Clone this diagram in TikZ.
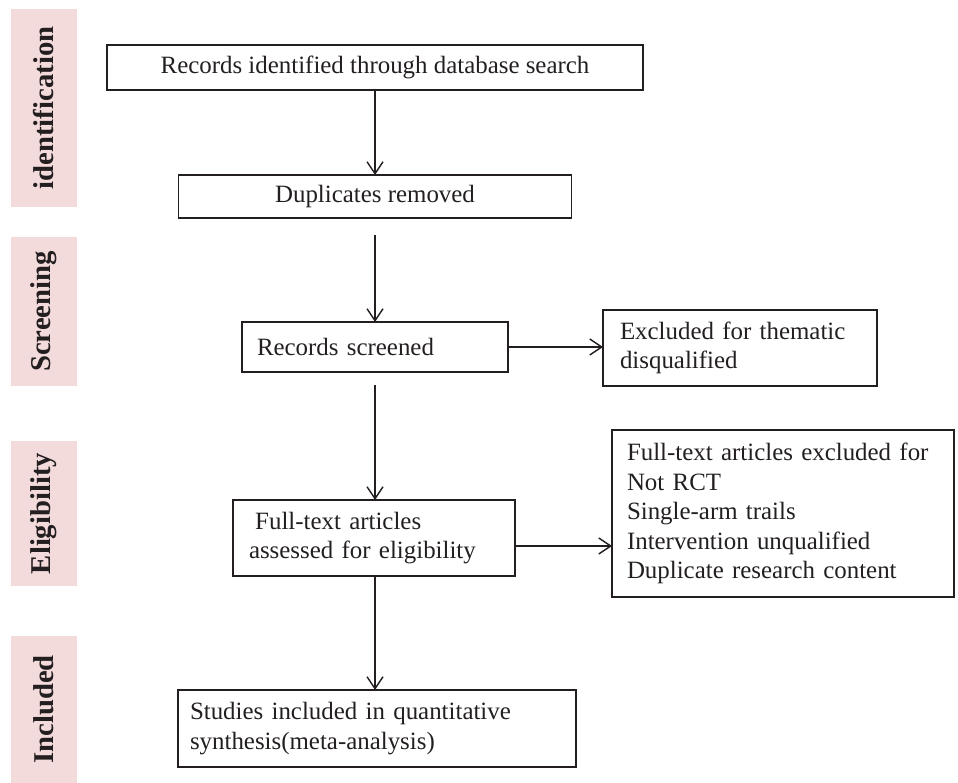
\documentclass[tikz,border=0pt]{standalone}
\usepackage{fontspec}
\setmainfont{Liberation Serif}
\usetikzlibrary{arrows.meta}
\definecolor{ink}{HTML}{231F20}
\definecolor{bandpink}{RGB}{243,218,219}
\begin{document}
\begin{tikzpicture}[x=1pt,y=-1pt,
 every node/.style={font=\fontsize{24.9}{29.5}\selectfont, text=ink},
 box/.style={draw=ink, line width=1.4pt, inner sep=0pt, outer sep=0pt},
 lbox/.style={box, align=left, inner xsep=15pt},
 band/.style={fill=bandpink, inner sep=0pt, rotate=90, minimum height=66pt, font=\fontsize{28.7}{30}\selectfont\bfseries},
 arr/.style={draw=ink, line width=1.4pt, -{Straight Barb[length=12pt,width=16pt,line width=1.4pt]}}]
\useasboundingbox (0,0) rectangle (958,783);
% side bands
\node[band, minimum width=198pt] (b1) at (44,108) {identification};
\node[band, minimum width=149pt] (b2) at (44,311.5) {Screening};
\node[band, minimum width=145pt] (b3) at (44,513.5) {Eligibility};
\node[band, minimum width=147pt] (b4) at (44,709.5) {Included};
% boxes
\node[box, minimum width=536pt, minimum height=45pt] (rec) at (375,67.5) {Records identified through database search};
\node[box, minimum width=393pt, minimum height=43pt] (dup) at (375,196.5) {Duplicates removed};
\node[lbox, minimum width=266pt, minimum height=50pt, text width=236pt] (scr) at (375,347) {Records screened};
\node[lbox, inner xsep=17pt, minimum width=274pt, minimum height=76pt, text width=240pt] (ex1) at (740,348) {Excluded for thematic\\disqualified};
\node[lbox, inner xsep=16pt, minimum width=282pt, minimum height=76pt, text width=250pt] (ft) at (374,538) {\hspace*{0.25em}Full-text articles\\assessed for eligibility};
\node[lbox, minimum width=342pt, minimum height=167pt, text width=312pt] (ex2) at (783,513.5) {Full-text articles excluded for\\Not RCT\\Single-arm trails\\Intervention unqualified\\Duplicate research content};
\node[lbox, inner xsep=12pt, minimum width=398pt, minimum height=77pt, text width=374pt] (st) at (377,728.5) {Studies included in quantitative\\synthesis(meta-analysis)};
% connectors
\coordinate (spine) at (375,0);
\draw[arr] (rec.south -| spine) -- (dup.north -| spine);
\draw[arr, shorten <=17pt] (dup.south -| spine) -- (scr.north -| spine);
\draw[arr, shorten <=13pt] (scr.south -| spine) -- (ft.north -| spine);
\draw[arr] (ft.south -| spine) -- (st.north -| spine);
\draw[arr] (scr.east) -- (scr.east -| ex1.west);
\coordinate (fa) at ([yshift=-8pt]ft.east);
\draw[arr] (fa) -- (fa -| ex2.west);
\end{tikzpicture}
\end{document}
